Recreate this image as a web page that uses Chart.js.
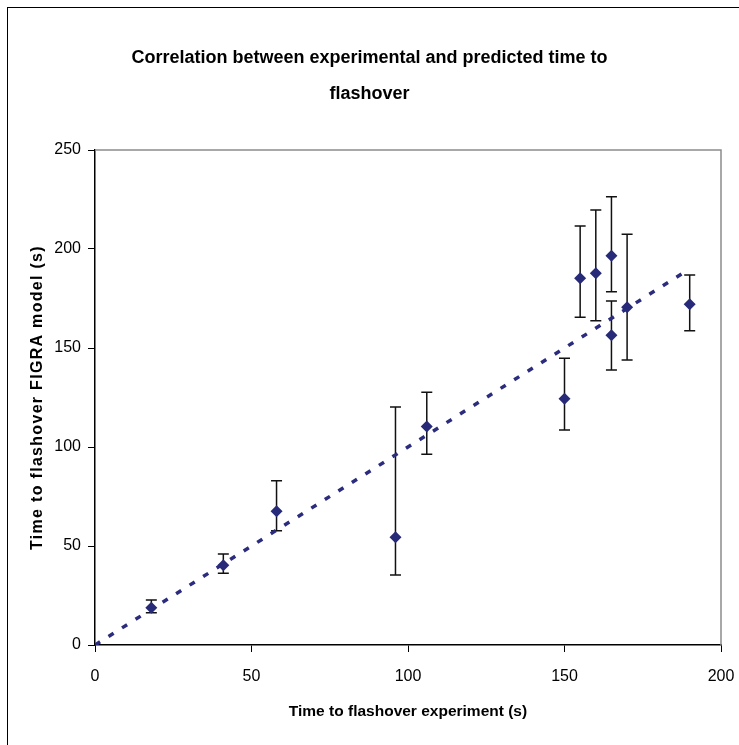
<!DOCTYPE html>
<html>
<head>
<meta charset="utf-8">
<script src="https://cdn.jsdelivr.net/npm/chart.js@4"></script>
<style>
  html, body { margin: 0; padding: 0; background: #fff; overflow: hidden; }
  #wrap { position: absolute; left: 0; top: 0; width: 739px; height: 745px; }
</style>
</head>
<body>
<div id="wrap"><canvas id="scatterChart" width="739" height="745"></canvas></div>
<script>
// experimental vs FIGRA model time to flashover (s)
const xExp   = [18, 41, 58, 96, 106, 150, 155, 160, 165, 165, 170, 190];
const yModel = [18.8, 40.3, 67.5, 54.4, 110.3, 124.4, 185.2, 187.7, 196.6, 156.4, 170.6, 172.1];
const yHigh  = [22.7, 46.0, 83.0, 120.2, 127.6, 144.8, 211.6, 219.7, 226.4, 173.7, 207.4, 186.9];
const yLow   = [16.3, 36.2, 57.7, 35.4, 96.3, 108.6, 165.5, 163.8, 178.4, 138.9, 143.9, 158.7];

// perfect-correlation reference line
const lineX = [0, 190];
const lineY = [0, 190];

const xTicks = [0, 50, 100, 150, 200];
const yTicks = [0, 50, 100, 150, 200, 250];

const FONT = "'Liberation Sans', Arial, sans-serif";
const NAVY = '#262a78';

// outer frame + gray top/right border of plot area
const framePlugin = {
    id: 'frame',
    beforeDraw(chart) {
        const ctx = chart.ctx;
        ctx.save();
        ctx.fillStyle = '#fff';
        ctx.fillRect(0, 0, chart.width, chart.height);
        ctx.strokeStyle = '#000';
        ctx.lineWidth = 1;
        ctx.strokeRect(7.5, 7.5, 760, 760);
        ctx.restore();
    },
    afterDraw(chart) {
        const a = chart.chartArea;
        const ctx = chart.ctx;
        ctx.save();
        ctx.strokeStyle = '#8c8c8c';
        ctx.lineWidth = 1.5;
        ctx.beginPath();
        ctx.moveTo(a.left, a.top);
        ctx.lineTo(a.right, a.top);
        ctx.lineTo(a.right, a.bottom);
        ctx.stroke();
        ctx.restore();
    }
};

// vertical error bars from yLow / yHigh
const errorBarPlugin = {
    id: 'errorBars',
    beforeDatasetsDraw(chart) {
        const xs = chart.scales.x, ys = chart.scales.y;
        const ctx = chart.ctx;
        ctx.save();
        ctx.strokeStyle = '#111';
        ctx.lineWidth = 1.5;
        xExp.forEach((xv, i) => {
            const px = xs.getPixelForValue(xv);
            const top = ys.getPixelForValue(yHigh[i]);
            const bot = ys.getPixelForValue(yLow[i]);
            ctx.beginPath();
            ctx.moveTo(px, top); ctx.lineTo(px, bot);
            ctx.moveTo(px - 5.5, top); ctx.lineTo(px + 5.5, top);
            ctx.moveTo(px - 5.5, bot); ctx.lineTo(px + 5.5, bot);
            ctx.stroke();
        });
        ctx.restore();
    }
};

const ctx = document.getElementById('scatterChart');
new Chart(ctx, {
    type: 'scatter',
    data: {
        datasets: [
            {
                label: 'FIGRA model',
                data: xExp.map((x, i) => ({x: x, y: yModel[i]})),
                pointStyle: 'rectRot',
                pointRadius: 6,
                backgroundColor: NAVY,
                borderColor: NAVY,
                borderWidth: 0
            },
            {
                type: 'line',
                label: 'y = x',
                data: lineX.map((x, i) => ({x: x, y: lineY[i]})),
                borderColor: '#2b2c7e',
                borderWidth: 3.5,
                borderDash: [6, 10],
                pointRadius: 0,
                fill: false
            }
        ]
    },
    options: {
        responsive: false,
        animation: false,
        layout: { padding: { left: 18, right: 18, top: 0, bottom: 0 } },
        scales: {
            x: {
                type: 'linear',
                min: 0, max: 200,
                afterBuildTicks: s => { s.ticks = xTicks.map(v => ({value: v})); },
                afterFit: s => { s.height = 100; s.paddingLeft = 0; s.paddingRight = 0; },
                border: { color: '#000', width: 1.5 },
                grid: { drawOnChartArea: false, tickLength: 7, color: '#000', tickColor: '#000' },
                ticks: { color: '#000', font: { family: FONT, size: 16 }, padding: 15, maxRotation: 0 },
                title: {
                    display: true,
                    text: 'Time to flashover experiment (s)',
                    color: '#000',
                    font: { family: FONT, size: 15.5, weight: 'bold' },
                    padding: { top: 0, bottom: 24 }
                }
            },
            y: {
                type: 'linear',
                min: 0, max: 250,
                afterBuildTicks: s => { s.ticks = yTicks.map(v => ({value: v})); },
                afterFit: s => {
                    s.width = 77;
                    // the original axis title is letter-spaced
                    if (!s._spacedTitle) {
                        const orig = s.drawTitle;
                        s.drawTitle = function () {
                            this.ctx.save();
                            this.ctx.letterSpacing = '1.3px';
                            orig.apply(this, arguments);
                            this.ctx.restore();
                        };
                        s._spacedTitle = true;
                    }
                },
                border: { color: '#000', width: 1.5 },
                grid: { drawOnChartArea: false, tickLength: 7, color: '#000', tickColor: '#000' },
                ticks: { color: '#000', font: { family: FONT, size: 16 }, padding: 7 },
                title: {
                    display: true,
                    text: 'Time to flashover FIGRA model (s)',
                    color: '#000',
                    font: { family: FONT, size: 16, weight: 'bold' },
                    padding: { top: 10, bottom: 0 }
                }
            }
        },
        plugins: {
            legend: { display: false },
            tooltip: { enabled: false },
            title: {
                display: true,
                text: ['Correlation between experimental and predicted time to', 'flashover'],
                color: '#000',
                font: { family: FONT, size: 18, weight: 'bold', lineHeight: 2.0 },
                padding: { top: 40, bottom: 38 }
            }
        }
    },
    plugins: [framePlugin, errorBarPlugin]
});
</script>
</body>
</html>
